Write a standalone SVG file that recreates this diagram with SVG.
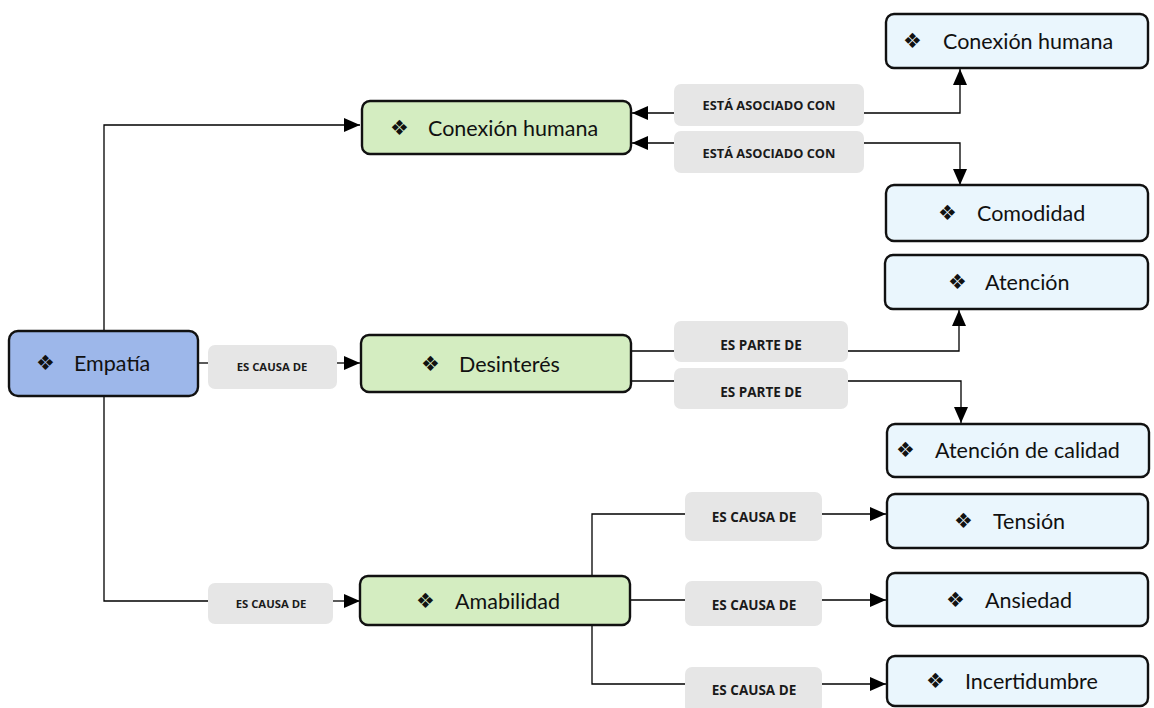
<svg xmlns="http://www.w3.org/2000/svg" width="1154" height="708" viewBox="0 0 1154 708">
  <defs>
    <marker id="arrow" viewBox="0 0 16 14" refX="16" refY="7" markerWidth="16" markerHeight="14" markerUnits="userSpaceOnUse" orient="auto">
      <path d="M0,0 L16,7 L0,14 Z" fill="#000"/>
    </marker>
    <style>
      .node rect { stroke: #111; stroke-width: 2.4; }
      .root rect { fill: #9db7ea; }
      .mid rect { fill: #d4edc1; }
      .leaf rect { fill: #eaf6fd; }
      .node text { font-family: Lato, "Open Sans", "DejaVu Sans", sans-serif; font-size: 21.5px; fill: #111; }
      .node text.bullet { font-family: "DejaVu Sans", sans-serif; font-size: 21px; }
      .label rect { fill: #e6e6e6; }
      .label text { font-family: "Open Sans", Lato, sans-serif; font-weight: bold; fill: #1a1a1a; text-anchor: middle; }
      .conn path { fill: none; stroke: #000; stroke-width: 1.3; }
      .conn path.arr { marker-end: url(#arrow); }
    </style>
  </defs>
  <rect width="1154" height="708" fill="#fff"/>

  <!-- connectors -->
  <g id="connectors" class="conn">
    <path class="arr" d="M104,331 V125 H360"/>
    <path d="M104,396 V601 H208"/>
    <path class="arr" d="M333,601 H360"/>
    <path d="M198,363 H208"/>
    <path class="arr" d="M337,363 H360"/>

    <path class="arr" d="M674,113 H632"/>
    <path class="arr" d="M864,113 H960 V69"/>
    <path class="arr" d="M674,143 H632"/>
    <path class="arr" d="M864,143 H960 V185"/>

    <path d="M631,351 H674"/>
    <path class="arr" d="M848,351 H959 V310"/>
    <path d="M631,381 H674"/>
    <path class="arr" d="M848,381 H961 V423"/>

    <path d="M592,576 V514 H685"/>
    <path class="arr" d="M822,514 H886"/>
    <path d="M630,600 H685"/>
    <path class="arr" d="M822,600 H886"/>
    <path d="M592,625 V684 H685"/>
    <path class="arr" d="M822,684 H886"/>
  </g>

  <!-- relation labels -->
  <g id="labels">
    <g id="lbl-empatia-desinteres" class="label">
      <rect x="208" y="345" width="129" height="44" rx="7"/>
      <text x="272" y="371" font-size="11.3">ES CAUSA DE</text>
    </g>
    <g id="lbl-empatia-amabilidad" class="label">
      <rect x="208" y="583" width="125" height="41" rx="7"/>
      <text x="271" y="608" font-size="11.3">ES CAUSA DE</text>
    </g>
    <g id="lbl-conexion-1" class="label">
      <rect x="674" y="84" width="190" height="42" rx="7"/>
      <text x="769" y="110" font-size="12.8">ESTÁ ASOCIADO CON</text>
    </g>
    <g id="lbl-conexion-2" class="label">
      <rect x="674" y="131" width="190" height="42" rx="7"/>
      <text x="769" y="158" font-size="12.8">ESTÁ ASOCIADO CON</text>
    </g>
    <g id="lbl-desinteres-1" class="label">
      <rect x="674" y="321" width="174" height="41" rx="7"/>
      <text x="761" y="350" font-size="13.5">ES PARTE DE</text>
    </g>
    <g id="lbl-desinteres-2" class="label">
      <rect x="674" y="368" width="174" height="41" rx="7"/>
      <text x="761" y="397" font-size="13.5">ES PARTE DE</text>
    </g>
    <g id="lbl-amabilidad-1" class="label">
      <rect x="685" y="492" width="137" height="49" rx="7"/>
      <text x="754" y="522" font-size="13.5">ES CAUSA DE</text>
    </g>
    <g id="lbl-amabilidad-2" class="label">
      <rect x="685" y="581" width="137" height="45" rx="7"/>
      <text x="754" y="610" font-size="13.5">ES CAUSA DE</text>
    </g>
    <g id="lbl-amabilidad-3" class="label">
      <rect x="685" y="667" width="137" height="46" rx="7"/>
      <text x="754" y="695" font-size="13.5">ES CAUSA DE</text>
    </g>
  </g>

  <!-- nodes -->
  <g id="node-empatia" class="node root">
    <rect x="9" y="331" width="189" height="65" rx="9"/>
    <text class="bullet" x="36" y="370">❖</text>
    <text x="74" y="371">Empatía</text>
  </g>
  <g id="node-conexion-humana" class="node mid">
    <rect x="362" y="101" width="269" height="53" rx="8"/>
    <text class="bullet" x="390" y="135">❖</text>
    <text x="428" y="136">Conexión humana</text>
  </g>
  <g id="node-desinteres" class="node mid">
    <rect x="361" y="335" width="270" height="57" rx="8"/>
    <text class="bullet" x="421" y="371">❖</text>
    <text x="459" y="372">Desinterés</text>
  </g>
  <g id="node-amabilidad" class="node mid">
    <rect x="360" y="576" width="270" height="49" rx="8"/>
    <text class="bullet" x="416" y="608">❖</text>
    <text x="455" y="609">Amabilidad</text>
  </g>

  <g id="node-conexion-humana-2" class="node leaf">
    <rect x="886" y="14" width="262" height="54" rx="8"/>
    <text class="bullet" x="903" y="48">❖</text>
    <text x="943" y="49">Conexión humana</text>
  </g>
  <g id="node-comodidad" class="node leaf">
    <rect x="886" y="185" width="262" height="56" rx="8"/>
    <text class="bullet" x="938" y="220">❖</text>
    <text x="977" y="221">Comodidad</text>
  </g>
  <g id="node-atencion" class="node leaf">
    <rect x="885" y="255" width="263" height="54" rx="8"/>
    <text class="bullet" x="948" y="289">❖</text>
    <text x="985" y="290">Atención</text>
  </g>
  <g id="node-atencion-calidad" class="node leaf">
    <rect x="887" y="424" width="262" height="53" rx="8"/>
    <text class="bullet" x="896" y="457">❖</text>
    <text x="935" y="458">Atención de calidad</text>
  </g>
  <g id="node-tension" class="node leaf">
    <rect x="887" y="494" width="261" height="54" rx="8"/>
    <text class="bullet" x="954" y="528">❖</text>
    <text x="993" y="529">Tensión</text>
  </g>
  <g id="node-ansiedad" class="node leaf">
    <rect x="887" y="573" width="261" height="53" rx="8"/>
    <text class="bullet" x="946" y="607">❖</text>
    <text x="985" y="608">Ansiedad</text>
  </g>
  <g id="node-incertidumbre" class="node leaf">
    <rect x="887" y="656" width="261" height="50" rx="8"/>
    <text class="bullet" x="926" y="688">❖</text>
    <text x="965" y="689">Incertidumbre</text>
  </g>
</svg>
